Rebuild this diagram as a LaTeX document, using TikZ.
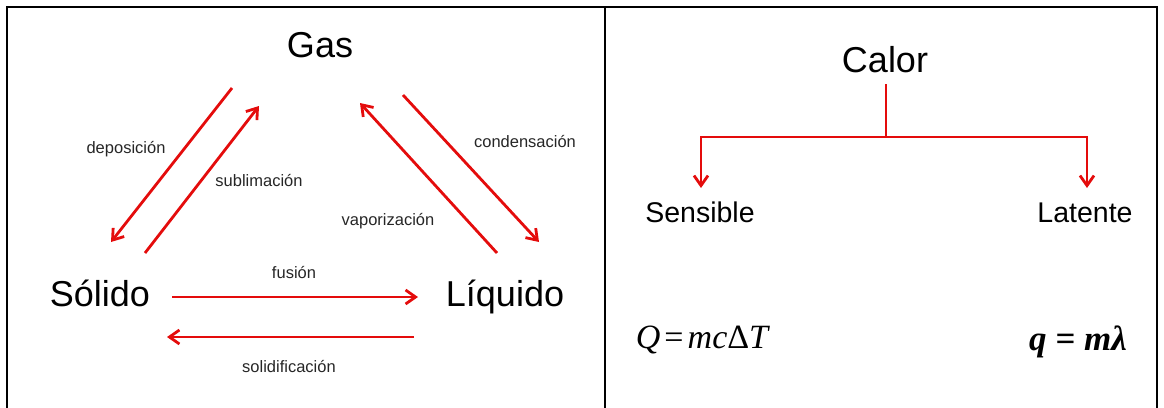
\documentclass[tikz,border=0pt]{standalone}
\usepackage{fontspec}
\setmainfont{Liberation Sans}
\newfontfamily\tnr{Liberation Serif}
\usetikzlibrary{arrows.meta}
\definecolor{arrred}{RGB}{228,12,12}
\tikzset{
  big/.style={inner sep=0pt, anchor=base, font=\fontsize{36}{40}\selectfont},
  mid/.style={inner sep=0pt, anchor=base, font=\fontsize{28.5}{32}\selectfont},
  lab/.style={inner sep=0pt, anchor=base, font=\fontsize{16.5}{19}\selectfont, text=black!85},
  eq/.style={inner sep=0pt, anchor=base},
  rarrow/.style={draw=arrred, line width=2.8pt, -{Straight Barb[length=10pt,width=14pt]}},
  rline/.style={draw=arrred, line width=2.8pt},
  frame/.style={draw=black, line width=2.6pt}
}
\begin{document}
\begin{tikzpicture}[x=1pt,y=-1pt]
\useasboundingbox (0,0) rectangle (1164,407);
% frame
\coordinate (fbl) at (7,409);
\coordinate (ftl) at (7,7);
\coordinate (ftr) at (1157,7);
\coordinate (fbr) at (1157,409);
\coordinate (mtop) at (605,7);
\coordinate (mbot) at (605,409);
\draw[frame] (fbl) -- (ftl) -- (ftr) -- (fbr);
\draw[frame] (mtop) -- (mbot);

% left panel nodes
\node[big] (gas) at (320,57) {Gas};
\node[big] (sol) at (100,306) {Sólido};
\node[big] (liq) at (505,306) {Líquido};

% arrow end points
\coordinate (depA) at (232,88);  \coordinate (depB) at (111,242);
\coordinate (subA) at (145,253); \coordinate (subB) at (259,106);
\coordinate (vapA) at (497,253); \coordinate (vapB) at (360,103);
\coordinate (conA) at (403,95);  \coordinate (conB) at (539,242);
\coordinate (fusA) at (172,297); \coordinate (fusB) at (418,297);
\coordinate (solA) at (414,337); \coordinate (solB) at (167,337);

\draw[rarrow] (depA) -- (depB);
\draw[rarrow] (subA) -- (subB);
\draw[rarrow] (vapA) -- (vapB);
\draw[rarrow] (conA) -- (conB);
\draw[rarrow] (fusA) -- (fusB);
\draw[rarrow] (solA) -- (solB);

\node[lab] (ldep) at (126,153) {deposición};
\node[lab] (lsub) at (259,186) {sublimación};
\node[lab] (lvap) at (388,225) {vaporización};
\node[lab] (lcon) at (525,147) {condensación};
\node[lab] (lfus) at (294,278) {fusión};
\node[lab] (lsol) at (289,372) {solidificación};

% right panel
\node[big] (calor) at (885,72) {Calor};
\node[mid] (sens) at (700,222) {Sensible};
\node[mid] (lat) at (1085,222) {Latente};
\coordinate (ctop) at (886,84);
\coordinate (cmid) at (886,137);
\coordinate (lcor) at (701,137);
\coordinate (rcor) at (1087,137);
\coordinate (ltip) at (701,188);
\coordinate (rtip) at (1087,188);
\draw[rline] (ctop) -- (cmid);
\draw[rarrow] (cmid) -- (lcor) -- (ltip);
\draw[rarrow] (cmid) -- (rcor) -- (rtip);

\node[eq, font=\tnr\fontsize{34}{38}\selectfont] (eqQ) at (703,348)
  {\textit{Q}\hspace{0.12em}=\hspace{0.12em}\textit{mc}Δ\textit{T}};
\node[eq, font=\tnr\fontsize{35}{38}\selectfont\bfseries\itshape] (eqq) at (1078,350)
  {q = mλ};
\end{tikzpicture}
\end{document}
